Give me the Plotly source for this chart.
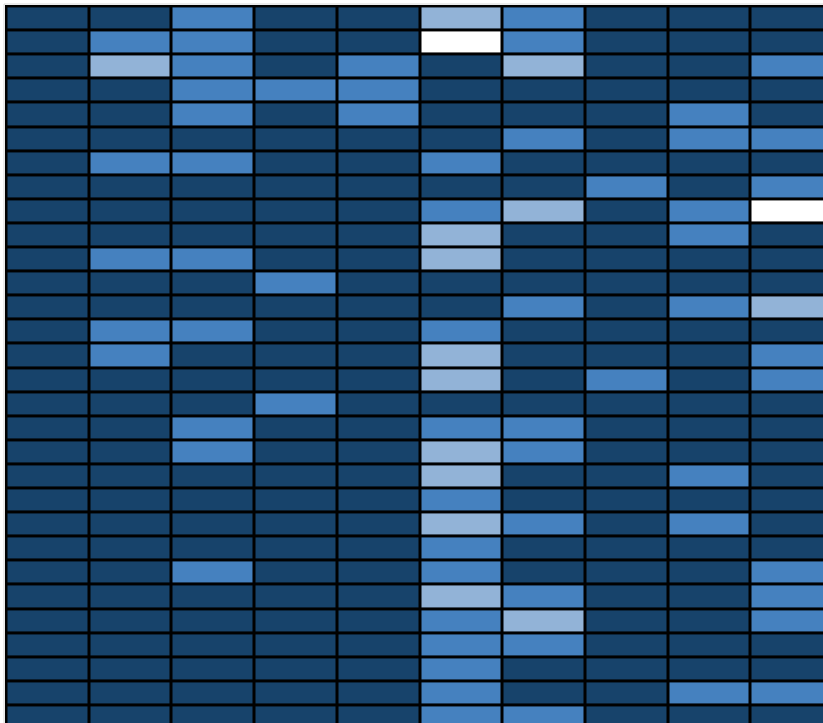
import plotly.graph_objects as go

# Category levels: 0 = dark, 1 = medium, 2 = light, 3 = white
columns = [f"C{i+1}" for i in range(10)]
rows = [f"R{i+1}" for i in range(30)]

r01 = [0, 0, 1, 0, 0, 2, 1, 0, 0, 0]
r02 = [0, 1, 1, 0, 0, 3, 1, 0, 0, 0]
r03 = [0, 2, 1, 0, 1, 0, 2, 0, 0, 1]
r04 = [0, 0, 1, 1, 1, 0, 0, 0, 0, 0]
r05 = [0, 0, 1, 0, 1, 0, 0, 0, 1, 0]
r06 = [0, 0, 0, 0, 0, 0, 1, 0, 1, 1]
r07 = [0, 1, 1, 0, 0, 1, 0, 0, 0, 0]
r08 = [0, 0, 0, 0, 0, 0, 0, 1, 0, 1]
r09 = [0, 0, 0, 0, 0, 1, 2, 0, 1, 3]
r10 = [0, 0, 0, 0, 0, 2, 0, 0, 1, 0]
r11 = [0, 1, 1, 0, 0, 2, 0, 0, 0, 0]
r12 = [0, 0, 0, 1, 0, 0, 0, 0, 0, 0]
r13 = [0, 0, 0, 0, 0, 0, 1, 0, 1, 2]
r14 = [0, 1, 1, 0, 0, 1, 0, 0, 0, 0]
r15 = [0, 1, 0, 0, 0, 2, 0, 0, 0, 1]
r16 = [0, 0, 0, 0, 0, 2, 0, 1, 0, 1]
r17 = [0, 0, 0, 1, 0, 0, 0, 0, 0, 0]
r18 = [0, 0, 1, 0, 0, 1, 1, 0, 0, 0]
r19 = [0, 0, 1, 0, 0, 2, 1, 0, 0, 0]
r20 = [0, 0, 0, 0, 0, 2, 0, 0, 1, 0]
r21 = [0, 0, 0, 0, 0, 1, 0, 0, 0, 0]
r22 = [0, 0, 0, 0, 0, 2, 1, 0, 1, 0]
r23 = [0, 0, 0, 0, 0, 1, 0, 0, 0, 0]
r24 = [0, 0, 1, 0, 0, 1, 0, 0, 0, 1]
r25 = [0, 0, 0, 0, 0, 2, 1, 0, 0, 1]
r26 = [0, 0, 0, 0, 0, 1, 2, 0, 0, 1]
r27 = [0, 0, 0, 0, 0, 1, 1, 0, 0, 0]
r28 = [0, 0, 0, 0, 0, 1, 0, 0, 0, 0]
r29 = [0, 0, 0, 0, 0, 1, 0, 0, 1, 1]
r30 = [0, 0, 0, 0, 0, 1, 1, 0, 0, 0]

z = [r01, r02, r03, r04, r05, r06, r07, r08, r09, r10,
     r11, r12, r13, r14, r15, r16, r17, r18, r19, r20,
     r21, r22, r23, r24, r25, r26, r27, r28, r29, r30]

dark, medium, light, white = "#17436b", "#4581bf", "#92b3d7", "#ffffff"
colorscale = [
    [0.0, dark], [0.25, dark],
    [0.25, medium], [0.5, medium],
    [0.5, light], [0.75, light],
    [0.75, white], [1.0, white],
]

W, H = 823, 723
ml, mt = 5, 5
pw, ph = W - ml, H - mt
colpx, rowpx = 82.7, 24.1
x0 = -0.5 - 1.5 / colpx
y0 = -0.5 - 1.4 / rowpx

fig = go.Figure(go.Heatmap(
    z=z,
    x=list(range(len(columns))),
    y=list(range(len(rows))),
    colorscale=colorscale,
    zmin=-0.5, zmax=3.5,
    xgap=3, ygap=3,
    showscale=False,
    hoverinfo="skip",
))

fig.update_layout(
    width=W, height=H,
    margin=dict(l=ml, r=0, t=mt, b=0),
    paper_bgcolor="white",
    plot_bgcolor="black",
    xaxis=dict(range=[x0, x0 + pw / colpx], visible=False, fixedrange=True),
    yaxis=dict(range=[y0 + ph / rowpx, y0], visible=False, fixedrange=True),
    shapes=[dict(type="line", xref="paper", yref="paper",
                 x0=-1.0 / pw, x1=-1.0 / pw, y0=0, y1=1 + 1.0 / ph,
                 line=dict(color="#d8d8d8", width=1)),
            dict(type="line", xref="paper", yref="paper",
                 x0=-1.0 / pw, x1=1, y0=1 + 1.0 / ph, y1=1 + 1.0 / ph,
                 line=dict(color="#d8d8d8", width=1))],
)

fig.write_html(
    "out.html",
    config={"displayModeBar": False},
    post_script="document.body.style.margin='0';document.body.style.overflow='hidden';",
)
